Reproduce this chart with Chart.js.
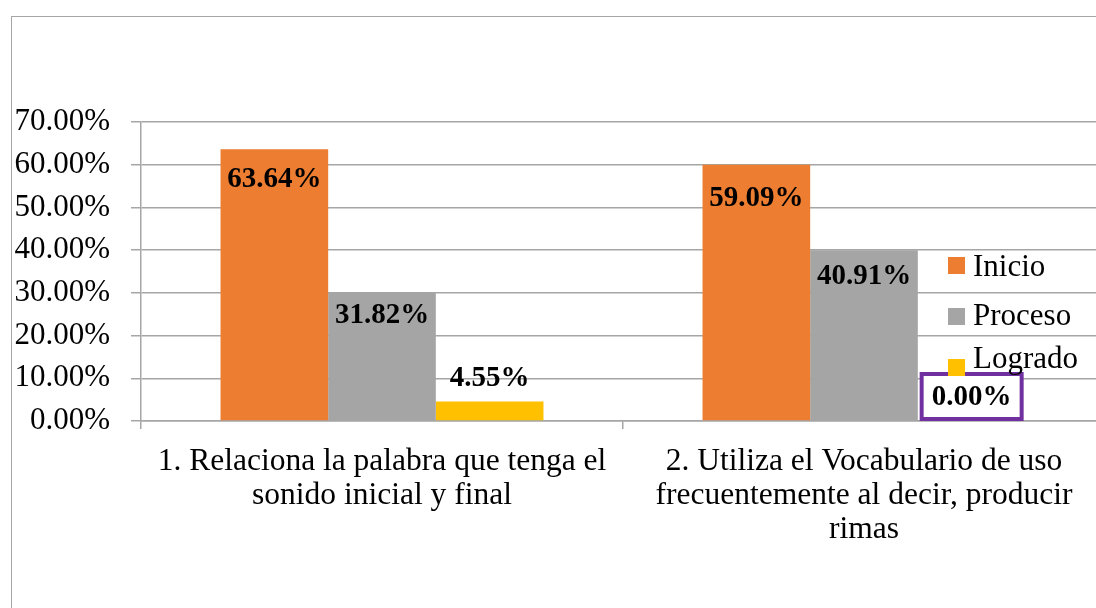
<!DOCTYPE html>
<html>
<head>
<meta charset="utf-8">
<script src="https://cdn.jsdelivr.net/npm/chart.js@4.4.1/dist/chart.umd.min.js"></script>
<style>
  html, body { margin:0; padding:0; background:#fff; overflow:hidden; }
  #wrap { position:relative; width:1096px; height:608px; overflow:hidden; }
  #frame { position:absolute; left:11px; top:16px; width:1200px; height:700px;
           border-left:1.5px solid #a6a6a6; border-top:1.5px solid #a6a6a6; }
  canvas { position:absolute; left:0; top:0; }
</style>
</head>
<body>
<div id="wrap">
  <div id="frame"></div>
  <canvas id="chart" width="1112" height="608"></canvas>
</div>
<script>
// categorias
const categories = [
  ["1. Relaciona la palabra que tenga el", "sonido inicial y final"],
  ["2. Utiliza el Vocabulario de uso", "frecuentemente al decir, producir", "rimas"]
];
const seriesNames = ["Inicio", "Proceso", "Logrado"];

// altura de las barras
const inicioBars  = [63.64, 60];
const procesoBars = [30, 40];
const logradoBars = [4.55, 0];

// valores de las etiquetas
const inicioLabels  = [63.64, 59.09];
const procesoLabels = [31.82, 40.91];
const logradoLabels = [4.55, 0.00];

const yTickLabels = ["0.00%","10.00%","20.00%","30.00%","40.00%","50.00%","60.00%","70.00%"];

const colors = ["#ED7D31", "#A5A5A5", "#FFC000"];
const FONT = "'Liberation Serif', 'Times New Roman', serif";

// etiquetas de datos
const labelPlugin = {
  id: "barLabels",
  afterDatasetsDraw(chart, args, opts) {
    const ctx = chart.ctx;
    const yScale = chart.scales.y;
    ctx.save();
    ctx.font = "bold 29px " + FONT;
    ctx.fillStyle = "#000";
    ctx.textAlign = "center";
    ctx.textBaseline = "middle";
    chart.data.datasets.forEach((ds, d) => {
      const meta = chart.getDatasetMeta(d);
      meta.data.forEach((bar, i) => {
        const v = ds.labelValues[i];
        const py = yScale.getPixelForValue(v);
        const y = v > 10 ? py + 30 : py - 23;
        const txt = v.toFixed(2) + "%";
        if (opts.box && opts.box.dataset === d && opts.box.index === i) {
          ctx.fillStyle = "#fff";
          ctx.fillRect(bar.x - 50, y - 23, 100, 45);
          ctx.lineWidth = 4;
          ctx.strokeStyle = opts.box.color;
          ctx.strokeRect(bar.x - 50, y - 24, 100, 45);
          ctx.fillStyle = "#000";
        }
        ctx.fillText(txt, bar.x, y);
      });
    });
    ctx.restore();
  }
};

// leyenda dentro del area
const legendPlugin = {
  id: "sideLegend",
  afterDraw(chart, args, opts) {
    const ctx = chart.ctx;
    ctx.save();
    ctx.font = "31px " + FONT;
    ctx.textBaseline = "alphabetic";
    ctx.textAlign = "left";
    chart.data.datasets.forEach((ds, d) => {
      const it = opts.items[d];
      ctx.fillStyle = ds.backgroundColor;
      ctx.fillRect(opts.x, it.box, 17, 17);
      ctx.fillStyle = "#000";
      ctx.fillText(ds.label, opts.x + 25, it.base);
    });
    ctx.restore();
  }
};

const chart = new Chart(document.getElementById("chart"), {
  type: "bar",
  data: {
    labels: categories,
    datasets: [
      { label: seriesNames[0], data: inicioBars,  labelValues: inicioLabels,  backgroundColor: colors[0] },
      { label: seriesNames[1], data: procesoBars, labelValues: procesoLabels, backgroundColor: colors[1] },
      { label: seriesNames[2], data: logradoBars, labelValues: logradoLabels, backgroundColor: colors[2] }
    ]
  },
  options: {
    responsive: false,
    animation: false,
    layout: { padding: { top: 122, right: 7, left: 0, bottom: 0 } },
    datasets: { bar: { categoryPercentage: 0.67, barPercentage: 1.0 } },
    plugins: {
      legend: { display: false },
      tooltip: { enabled: false },
      barLabels: { box: { dataset: 2, index: 1, color: "#7030A0" } },
      sideLegend: {
        x: 948,
        items: [ { box: 257, base: 276 }, { box: 308, base: 325 }, { box: 359, base: 368 } ]
      }
    },
    scales: {
      x: {
        afterFit(s) { s.height = 187; },
        grid: { drawOnChartArea: false, drawTicks: true, tickLength: 8, color: "#a6a6a6", lineWidth: 1.5 },
        border: { color: "#a6a6a6", width: 1.5 },
        ticks: { color: "#000", font: { family: FONT, size: 31.5, lineHeight: 1.08 }, padding: 16, maxRotation: 0, autoSkip: false }
      },
      y: {
        min: 0, max: 70,
        afterFit(s) { s.width = 141; },
        grid: { color: "#a6a6a6", lineWidth: 1.5, tickLength: 10 },
        border: { color: "#a6a6a6", width: 1.5 },
        ticks: {
          stepSize: 10, padding: 21, color: "#000",
          font: { family: FONT, size: 31 },
          callback: (v, i) => yTickLabels[i]
        }
      }
    }
  },
  plugins: [labelPlugin, legendPlugin]
});
</script>
</body>
</html>
